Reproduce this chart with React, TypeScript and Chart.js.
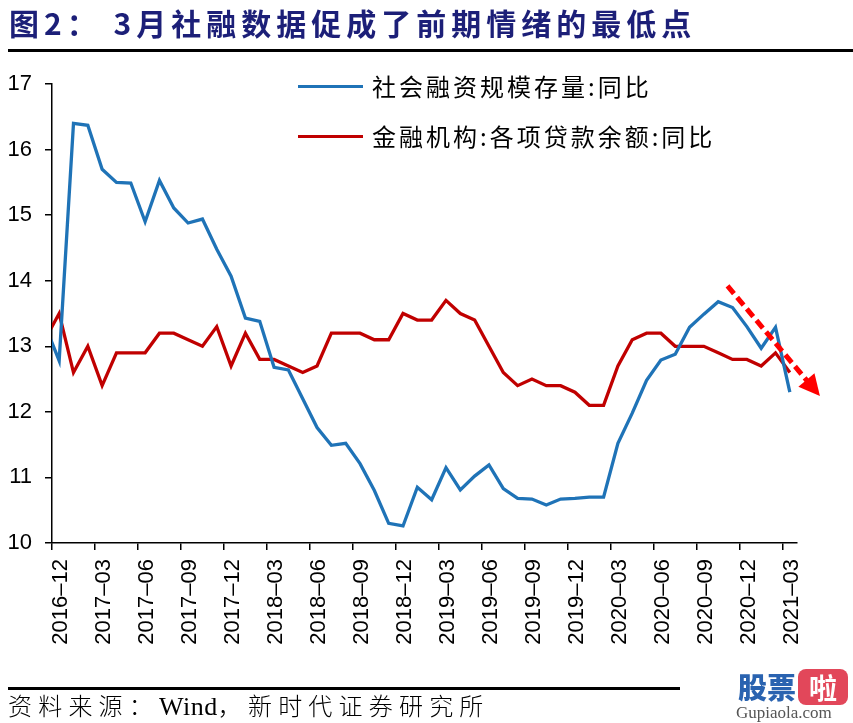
import React, { useEffect, useRef } from 'react';
import { Chart, registerables } from 'chart.js';

Chart.register(...registerables);

// Monthly categories (2016-11 is only partly visible: the line enters at the left axis)
const months: string[] = [
  '2016-11', '2016-12',
  '2017-01', '2017-02', '2017-03', '2017-04', '2017-05', '2017-06',
  '2017-07', '2017-08', '2017-09', '2017-10', '2017-11', '2017-12',
  '2018-01', '2018-02', '2018-03', '2018-04', '2018-05', '2018-06',
  '2018-07', '2018-08', '2018-09', '2018-10', '2018-11', '2018-12',
  '2019-01', '2019-02', '2019-03', '2019-04', '2019-05', '2019-06',
  '2019-07', '2019-08', '2019-09', '2019-10', '2019-11', '2019-12',
  '2020-01', '2020-02', '2020-03', '2020-04', '2020-05', '2020-06',
  '2020-07', '2020-08', '2020-09', '2020-10', '2020-11', '2020-12',
  '2021-01', '2021-02', '2021-03',
];

// 社会融资规模存量:同比
const tsfGrowth: number[] = [
  13.33, 12.78,
  16.4, 16.37, 15.7, 15.5, 15.49, 14.9,
  15.53, 15.11, 14.88, 14.94, 14.48, 14.07,
  13.43, 13.38, 12.68, 12.64, 12.2, 11.76,
  11.49, 11.52, 11.21, 10.8, 10.3, 10.26,
  10.85, 10.66, 11.15, 10.81, 11.02, 11.19,
  10.83, 10.68, 10.67, 10.58, 10.67, 10.68,
  10.7, 10.7, 11.52, 11.98, 12.48, 12.79,
  12.88, 13.29, 13.49, 13.68, 13.59, 13.3,
  12.97, 13.29, 12.3,
];

// 金融机构:各项贷款余额:同比
const loanGrowth: number[] = [
  13.1, 13.5,
  12.6, 13.0, 12.4, 12.9, 12.9, 12.9,
  13.2, 13.2, 13.1, 13.0, 13.3, 12.7,
  13.2, 12.8, 12.8, 12.7, 12.6, 12.7,
  13.2, 13.2, 13.2, 13.1, 13.1, 13.5,
  13.4, 13.4, 13.7, 13.5, 13.4, 13.0,
  12.6, 12.4, 12.5, 12.4, 12.4, 12.3,
  12.1, 12.1, 12.7, 13.1, 13.2, 13.2,
  13.0, 13.0, 13.0, 12.9, 12.8, 12.8,
  12.7, 12.9, 12.6,
];

const xTickLabels: string[] = [
  '2016-12', '2017-03', '2017-06', '2017-09', '2017-12', '2018-03',
  '2018-06', '2018-09', '2018-12', '2019-03', '2019-06', '2019-09',
  '2019-12', '2020-03', '2020-06', '2020-09', '2020-12', '2021-03',
];

const seriesNames = ['社会融资规模存量:同比', '金融机构:各项贷款余额:同比'];
const seriesColors = ['#1f73b7', '#c00000'];

const yMin = 10;
const yMax = 17;

// dashed trend arrow annotation (data units)
const arrowFrom = { x: 47.65, y: 13.92 };
const arrowTo = { x: 54.1, y: 12.24 };

const W = 853;
const H = 723;

const arrowPlugin = {
  id: 'trendArrow',
  afterDatasetsDraw(chart: any) {
    const xs = chart.scales.x;
    const ys = chart.scales.y;
    const x0 = xs.getPixelForValue(arrowFrom.x);
    const y0 = ys.getPixelForValue(arrowFrom.y);
    const x1 = xs.getPixelForValue(arrowTo.x);
    const y1 = ys.getPixelForValue(arrowTo.y);
    const dx = x1 - x0;
    const dy = y1 - y0;
    const len = Math.sqrt(dx * dx + dy * dy);
    const ux = dx / len;
    const uy = dy / len;
    const headLen = 21;
    const headHalf = 10.5;
    const bx = x1 - ux * headLen;
    const by = y1 - uy * headLen;
    const ctx = chart.ctx;
    ctx.save();
    ctx.strokeStyle = '#ff0000';
    ctx.fillStyle = '#ff0000';
    ctx.lineWidth = 5;
    ctx.setLineDash([10, 5]);
    ctx.beginPath();
    ctx.moveTo(x0, y0);
    ctx.lineTo(bx + ux * 2, by + uy * 2);
    ctx.stroke();
    ctx.setLineDash([]);
    ctx.beginPath();
    ctx.moveTo(x1, y1);
    ctx.lineTo(bx - uy * headHalf, by + ux * headHalf);
    ctx.lineTo(bx + uy * headHalf, by - ux * headHalf);
    ctx.closePath();
    ctx.fill();
    ctx.restore();
  },
};

function ChartCanvas() {
  const ref = useRef<HTMLCanvasElement | null>(null);
  useEffect(() => {
    if (!ref.current) return;
    const axisFont = { family: '"Liberation Sans", Arial, sans-serif', size: 22 };
    const chart = new Chart(ref.current, {
      type: 'line',
      data: {
        datasets: [tsfGrowth, loanGrowth].map((vals, k) => ({
          label: seriesNames[k],
          data: vals.map((v, i) => ({ x: i, y: v })),
          borderColor: seriesColors[k],
          backgroundColor: seriesColors[k],
          borderWidth: 3.3,
          pointRadius: 0,
          tension: 0,
          fill: false,
          clip: { left: 0, top: 20, right: 20, bottom: 20 },
        })),
      },
      options: {
        animation: false,
        responsive: false,
        events: [],
        layout: { padding: { top: 84, right: 56, left: 0, bottom: 0 } },
        plugins: {
          legend: { display: false },
          tooltip: { enabled: false },
        },
        scales: {
          x: {
            type: 'linear',
            bounds: 'data',
            min: 0.5,
            max: 52.5,
            afterBuildTicks: (s: any) => {
              s.ticks = xTickLabels.map((l) => ({ value: months.indexOf(l) - 0.5 }));
            },
            afterFit: (s: any) => {
              s.height = H - 543;
            },
            ticks: {
              autoSkip: false,
              minRotation: 90,
              maxRotation: 90,
              labelOffset: 9,
              padding: 9,
              color: '#000',
              font: { ...axisFont, size: 22 },
              callback: (_v: any, i: number) => xTickLabels[i].replace('-', '–'),
            },
            grid: {
              drawOnChartArea: false,
              drawTicks: true,
              tickLength: 7,
              color: '#000',
              lineWidth: 1.5,
            },
            border: { display: true, color: '#000', width: 1.5 },
          },
          y: {
            min: yMin,
            max: yMax,
            afterFit: (s: any) => {
              s.width = 52;
            },
            ticks: {
              stepSize: 1,
              padding: 13,
              color: '#000',
              font: axisFont,
            },
            grid: {
              drawOnChartArea: false,
              drawTicks: true,
              tickLength: 7,
              color: '#000',
              lineWidth: 1.5,
            },
            border: { display: true, color: '#000', width: 1.5 },
          },
        },
      },
      plugins: [arrowPlugin],
    } as any);
    return () => chart.destroy();
  }, []);
  return (
    <canvas
      ref={ref}
      width={W}
      height={H}
      style={{ position: 'absolute', left: 0, top: 0, width: W, height: H }}
    />
  );
}

const cjk = '"Noto Sans CJK SC", "Noto Sans", sans-serif';

export default function App() {
  return (
    <div
      style={{
        position: 'absolute',
        left: 0,
        top: 0,
        width: W,
        height: H,
        background: '#fff',
        overflow: 'hidden',
      }}
    >
      <ChartCanvas />
      {/* title */}
      <div
        style={{
          position: 'absolute',
          left: 9,
          top: 4,
          fontFamily: cjk,
          fontWeight: 700,
          fontSize: 30,
          lineHeight: '36px',
          letterSpacing: 5,
          color: '#1c1f78',
          whiteSpace: 'nowrap',
        }}
      >
        图2： 3月社融数据促成了前期情绪的最低点
      </div>
      <div style={{ position: 'absolute', left: 8, top: 49, width: 845, height: 3, background: '#000' }} />

      {/* legend */}
      {seriesNames.map((name, k) => (
        <React.Fragment key={name}>
          <div
            style={{
              position: 'absolute',
              left: 298,
              top: 85 + k * 50,
              width: 65,
              height: 3,
              background: seriesColors[k],
            }}
          />
          <div
            style={{
              position: 'absolute',
              left: 372,
              top: 71 + k * 50,
              fontFamily: cjk,
              fontSize: 24,
              lineHeight: '30px',
              letterSpacing: 3,
              color: '#000',
              whiteSpace: 'nowrap',
            }}
          >
            {name}
          </div>
        </React.Fragment>
      ))}

      {/* source */}
      <div style={{ position: 'absolute', left: 8, top: 687, width: 672, height: 3, background: '#000' }} />
      <div
        style={{
          position: 'absolute',
          left: 8,
          top: 690,
          fontFamily: cjk,
          fontWeight: 300,
          fontSize: 24,
          lineHeight: '30px',
          letterSpacing: 6.2,
          color: '#000',
          whiteSpace: 'nowrap',
        }}
      >
        资料来源：
        <span style={{ fontFamily: '"Liberation Serif", serif', fontSize: 26, letterSpacing: 0.5, fontWeight: 400 }}>
          Wind
        </span>
        ，新时代证券研究所
      </div>

      {/* watermark */}
      <div
        style={{
          position: 'absolute',
          left: 738,
          top: 668,
          fontFamily: cjk,
          fontWeight: 900,
          fontSize: 29,
          lineHeight: '36px',
          color: '#2a63b0',
          whiteSpace: 'nowrap',
        }}
      >
        股票
      </div>
      <div
        style={{
          position: 'absolute',
          left: 798,
          top: 669,
          width: 50,
          height: 36,
          borderRadius: 8,
          background: '#e2475a',
          color: '#fff',
          fontFamily: cjk,
          fontWeight: 700,
          fontSize: 28,
          lineHeight: '36px',
          textAlign: 'center',
        }}
      >
        啦
      </div>
      <div
        style={{
          position: 'absolute',
          left: 736,
          top: 703,
          fontFamily: '"Liberation Serif", serif',
          fontSize: 17,
          lineHeight: '20px',
          color: '#555',
          whiteSpace: 'nowrap',
        }}
      >
        Gupiaola.com
      </div>
    </div>
  );
}
